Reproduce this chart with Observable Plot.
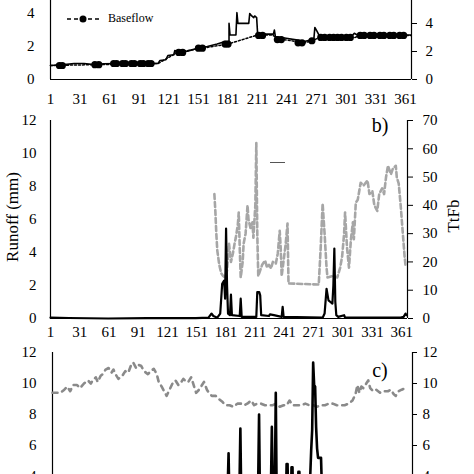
<!DOCTYPE html>
<html><head><meta charset="utf-8">
<script src="https://cdn.jsdelivr.net/npm/d3@7"></script>
<script src="https://cdn.jsdelivr.net/npm/@observablehq/plot@0.6"></script>
<style>
html,body{margin:0;padding:0;background:#fff;}
#wrap{position:relative;width:474px;height:474px;overflow:hidden;background:#fff;font-family:"Liberation Serif","Times New Roman",serif;color:#000;}
#wrap svg, #wrap svg text{font-family:"Liberation Serif","Times New Roman",serif !important;}
#wrap svg text{font-size:15px;font-variant:normal !important;}
.ov{position:absolute;white-space:nowrap;line-height:1;}
</style></head><body><div id="wrap"></div>
<script>
// ---------- shared ----------
const xTicks = [1,31,61,91,121,151,181,211,241,271,301,331,361];

// ---------- panel a ----------
const flowDay = [1,15,25,35,45,55,70,110,112,118,120,126,127,130,140,150,160,170,178,182,182,183,189,190,191,202,203,205,207,208,210,211,227,228,229,240,250,258,266,268,269,271,274,306,309,312,366];
const flowVal = [0.85,0.9,0.97,0.97,0.9,0.95,0.97,0.97,1.15,1.2,1.45,1.5,1.75,1.7,1.72,1.9,2.0,2.15,2.3,2.3,3.4,2.7,2.7,4.05,3.4,3.4,4.0,3.85,3.75,3.85,3.75,2.75,2.75,3.0,2.6,2.5,2.4,2.3,2.4,2.45,3.15,2.95,2.6,2.6,2.8,2.7,2.7];
const baseDay = [1,110,130,155,181,211,226,232,240,250,258,266,274,310,314,366];
const baseVal = [0.85,0.97,1.65,1.9,2.15,2.7,2.7,2.45,2.4,2.3,2.2,2.35,2.55,2.55,2.67,2.67];
const markDay = [10,13,46,50,65,68,74,77,83,86,92,95,100,103,131,135,151,155,178,181,212,216,231,235,252,256,266,275,279,284,288,292,296,301,305,315,319,325,329,335,339,345,349,355,359];
const markVal = [0.85,0.85,0.9,0.9,0.97,0.97,0.97,0.97,0.97,0.97,0.97,0.97,0.97,0.97,1.64,1.64,1.9,1.9,2.15,2.15,2.67,2.67,2.42,2.42,2.22,2.22,2.35,2.55,2.55,2.55,2.55,2.55,2.55,2.55,2.55,2.67,2.67,2.67,2.67,2.67,2.67,2.67,2.67,2.67,2.67];
const aLeftTicks = [0,2,4];
const aRightTicks = [0,2,4];

// ---------- panel b ----------
const runoffDay = [1,20,60,100,150,163,166,168,172,175,177,179,180,181,182,183,185,186,187,195,196,197,212,213,215,216,217,225,226,230,238,239,240,280,282,284,286,288,290,291,292,293,294,296,302,303,360,363,365,366];
const runoffVal = [0.05,0.03,0,0.02,0.02,0.05,0.3,0.15,0.05,0.3,2.1,2.3,1.2,5.45,2.0,0.3,0.2,1.45,0.2,0.15,1.2,0.1,0.1,1.6,1.6,1.4,0.2,0.15,0.25,0.2,0.1,0.7,0.1,0.05,0.3,1.8,1.1,1.0,0.9,2.0,4.24,1.0,0.2,0.1,0.2,0.05,0.05,0.1,0.3,0.2];
const ttfbDay = [169,170,171,172,174,176,178,180,182,184,186,188,190,191,193,194,195,196,198,199,201,203,204,206,208,209,211,212,213,214,216,218,221,223,225,227,229,232,234,236,237,238,240,242,244,245,276,278,280,282,284,285,290,295,298,300,302,303,305,307,309,311,312,314,316,319,322,326,328,331,333,336,338,341,343,345,347,350,352,355,356,358,360,362,364,365];
const ttfbVal = [44,38,30,24,19,16,15,14.5,17,26.5,20,23,27,28.6,33,37.5,25,14.5,20,26.5,30,40,35,32,34,28.6,40,62,30,15,17,19,20.5,18,19,17.7,20,19.4,23,31,25,15,20.5,26,33.6,12.4,12,25,40.6,30,18,14.5,15,14.5,18,22,30,37.5,25,18,28,34,28,41,42,48,47,48.8,44,45,40,38,44,46,44,50,54,51,53,54,50,47.7,40,31,22,18.7];
const bLeftTicks = [0,2,4,6,8,10,12];
const bRightTicks = [0,10,20,30,40,50,60,70];

// ---------- panel c ----------
const cDashDay = [1,5,9,13,16,19,22,26,29,33,37,40,42,45,47,50,52,55,58,61,63,65,68,72,75,78,81,83,86,88,91,94,98,101,104,107,109,112,117,120,123,126,129,131,134,137,139,142,145,147,150,153,155,158,160,163,167,170,174,177,181,185,189,193,196,199,203,206,209,213,217,221,225,228,232,236,239,242,245,249,254,258,262,266,270,274,278,282,286,290,294,298,302,306,309,311,313,315,317,320,322,324,327,330,334,337,340,342,345,348,350,353,356,360];
const cDashVal = [9.4,9.4,9.4,9.6,9.8,9.5,9.9,9.9,9.7,10.0,10.2,10.0,10.2,10.4,10.1,10.5,10.6,10.9,11.0,10.7,10.9,10.6,10.3,10.5,10.8,10.7,11.2,11.35,11.0,11.2,11.15,10.8,10.6,10.8,10.95,10.6,10.1,9.8,9.2,9.6,10.0,10.2,9.9,10.0,10.3,10.1,10.1,10.4,9.8,9.4,9.6,9.9,10.1,9.6,9.4,9.2,9.2,9.0,8.8,8.6,8.6,8.5,8.7,8.7,8.6,8.7,8.9,8.6,8.7,8.7,8.6,8.6,8.6,8.7,8.5,8.6,8.6,8.9,8.6,8.6,8.6,8.7,8.6,8.6,8.5,8.6,8.6,8.7,8.7,8.6,8.6,8.6,8.7,8.9,9.3,9.9,9.4,9.8,9.7,10.0,10.2,9.7,9.5,9.6,9.4,9.5,9.5,9.5,9.6,9.3,9.2,9.5,9.6,9.7];
const cLineDay = [1,178,179,180,181,182,190,191,192,193,194,209,210,211,212,213,222,223,224,225,227,228,229,230,238,239,240,241,243,244,245,246,250,251,252,253,262,263,264,265,266,267,268,269,270,271,273,274,275,277,366];
const cLineVal = [1,1,3,5.5,2,1,1,3,7.1,2,1,1,3,8.0,2,1,1,3,7.2,3,3,9.4,2,1,1,4.8,4.8,1,1,4.6,4.6,1,1,4.3,4.3,1,1,4,5.7,7,11.35,9.9,9.8,7.2,5.8,5.2,5.2,5.2,3,1,1];
const cTicks = [4,6,8,10,12];

// ---------- helpers ----------
const zip = (xs, ys) => xs.map((x, i) => ({x, y: ys[i]}));
const baseStyle = "font-family:'Liberation Serif','Times New Roman',serif;font-size:15px;background:transparent;overflow:visible;color:black;";
const fmt = d => String(d);
const wrap = document.getElementById("wrap");
function place(svg, top) {
  svg.style.position = "absolute";
  svg.style.left = "0px";
  svg.style.top = top + "px";
  svg.style.maxWidth = "none";
  wrap.appendChild(svg);
}
function overlay(html, css) {
  const d = document.createElement("div");
  d.className = "ov";
  d.innerHTML = html;
  d.setAttribute("style", css);
  wrap.appendChild(d);
}

// ---------- panel a ----------
const kA = 14 / 16.5;
const plotA = Plot.plot({
  width: 474, height: 130, marginTop: 0, marginBottom: 31, marginLeft: 50, marginRight: 63,
  x: {domain: [1, 367]}, y: {domain: [0, 6]},
  style: baseStyle,
  marks: [
    Plot.ruleX([1], {stroke: "black", strokeWidth: 1.2}),
    Plot.ruleX([367], {stroke: "black", strokeWidth: 1.2}),
    Plot.ruleY([0], {stroke: "black", strokeWidth: 1.2}),
    Plot.axisX({ticks: xTicks, tickFormat: fmt, tickSize: 0, tickPadding: 14, label: null}),
    Plot.axisY({anchor: "left", ticks: aLeftTicks, tickFormat: fmt, tickSize: 0, tickPadding: 16, label: null}),
    Plot.axisY({anchor: "right", ticks: aRightTicks.map(v => v * kA), tickFormat: d => String(Math.round(d / kA)), tickSize: 5, tickPadding: 9, label: null}),
    Plot.line(zip(baseDay, baseVal), {x: "x", y: "y", stroke: "black", strokeWidth: 1.5, strokeDasharray: "2,2"}),
    Plot.line(zip(flowDay, flowVal), {x: "x", y: "y", stroke: "black", strokeWidth: 1.6}),
    Plot.dot(zip(markDay, markVal), {x: "x", y: "y", r: 3.6, fill: "black", stroke: "none"})
  ]
});
place(plotA, -20);

// ---------- panel b ----------
const kB = 12 / 70;
const plotB = Plot.plot({
  width: 474, height: 250, marginTop: 20, marginBottom: 32, marginLeft: 50, marginRight: 67,
  x: {domain: [1, 367]}, y: {domain: [0, 12]},
  style: baseStyle,
  marks: [
    Plot.ruleX([1], {stroke: "black", strokeWidth: 1.2}),
    Plot.ruleX([367], {stroke: "black", strokeWidth: 1.2}),
    Plot.ruleY([0], {stroke: "black", strokeWidth: 1.2}),
    Plot.axisX({ticks: xTicks, tickFormat: fmt, tickSize: 0, tickPadding: 8, label: null}),
    Plot.axisY({anchor: "left", ticks: bLeftTicks, tickFormat: fmt, tickSize: 0, tickPadding: 14, label: null}),
    Plot.axisY({anchor: "right", ticks: bRightTicks.map(v => v * kB), tickFormat: d => String(Math.round(d / kB)), tickSize: 5, tickPadding: 10, label: null}),
    Plot.line(zip(ttfbDay, ttfbVal.map(v => v * kB)), {x: "x", y: "y", stroke: "#a6a6a6", strokeWidth: 2.6, strokeDasharray: "5,3"}),
    Plot.line(zip(runoffDay, runoffVal), {x: "x", y: "y", stroke: "black", strokeWidth: 2.2})
  ]
});
place(plotB, 100);

// ---------- panel c ----------
const plotC = Plot.plot({
  width: 474, height: 210, marginTop: 12, marginBottom: 12, marginLeft: 52, marginRight: 62,
  x: {domain: [1, 367], axis: null}, y: {domain: [0, 12]},
  style: baseStyle,
  marks: [
    Plot.ruleX([1], {stroke: "black", strokeWidth: 1.2}),
    Plot.ruleX([367], {stroke: "black", strokeWidth: 1.2}),
    Plot.axisY({anchor: "left", ticks: cTicks, tickFormat: fmt, tickSize: 0, tickPadding: 16, label: null}),
    Plot.axisY({anchor: "right", ticks: cTicks, tickFormat: fmt, tickSize: 4, tickPadding: 6, label: null}),
    Plot.line(zip(cDashDay, cDashVal), {x: "x", y: "y", stroke: "#8a8a8a", strokeWidth: 2.6, strokeDasharray: "5,5"}),
    Plot.line(zip(cLineDay, cLineVal), {x: "x", y: "y", stroke: "black", strokeWidth: 2.6})
  ]
});
place(plotC, 340);

// ---------- text overlays ----------
overlay('<svg width="34" height="12"><line x1="1" x2="33" y1="6" y2="6" stroke="black" stroke-width="1.5" stroke-dasharray="4,3"/><circle cx="17" cy="6" r="3.5" fill="black"/></svg>', "left:66px;top:12px;");
overlay("Baseflow", "left:108px;top:18px;transform:translateY(-50%);font-size:12px;");
overlay("", "left:270px;top:162px;width:15px;height:0;border-top:1.5px solid #555;");
overlay("b)", "left:380px;top:125px;transform:translate(-50%,-50%);font-size:20px;");
overlay("c)", "left:380px;top:370px;transform:translate(-50%,-50%);font-size:20px;");
overlay("Runoff (mm)", "left:12px;top:217px;transform:translate(-50%,-50%) rotate(-90deg);font-size:17px;");
overlay("TtFb", "left:453px;top:216px;transform:translate(-50%,-50%) rotate(-90deg);font-size:17px;");
</script></body></html>
